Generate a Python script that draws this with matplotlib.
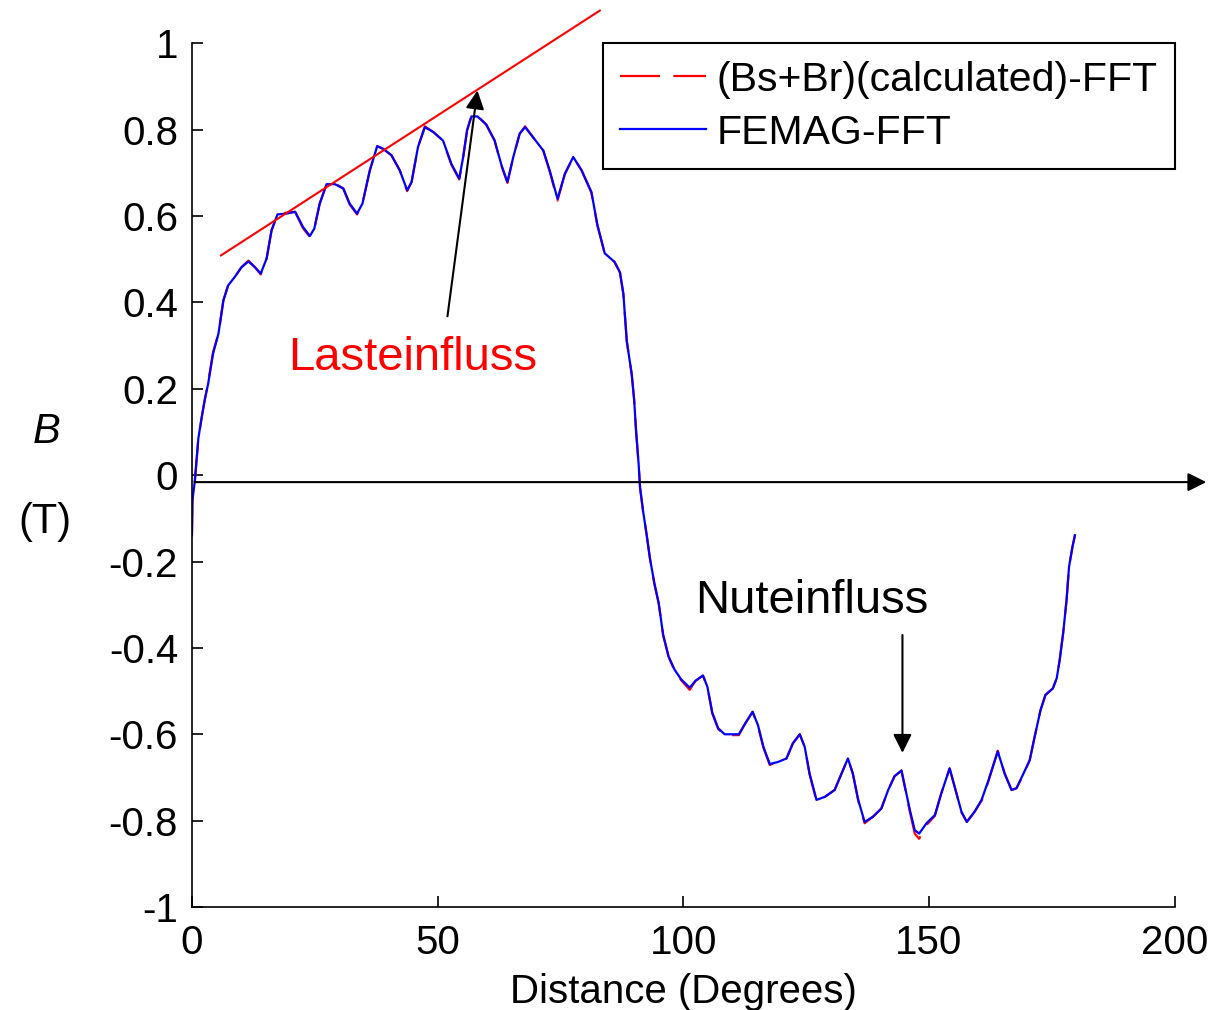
import matplotlib.pyplot as plt

plt.rcParams['font.family'] = ['Liberation Sans', 'DejaVu Sans']

# Flux density along the air gap
distance = [0.0, 0.1, 0.6, 0.95, 1.3, 2.0, 2.6, 3.3, 4.3, 5.4, 6.4, 7.4, 8.7, 10.1, 11.5,
            12.8, 14.0, 15.2, 16.2, 17.4, 19.3, 21.0, 22.6, 24.0, 24.9, 26.0, 27.4, 29.1,
            30.8, 32.1, 33.6, 34.7, 36.2, 37.7, 38.9, 40.6, 42.3, 43.8, 44.7, 46.0, 47.4,
            49.1, 51.1, 52.8, 54.4, 55.2, 56.0, 56.9, 58.1, 59.9, 61.6, 63.0, 64.2, 65.4,
            66.7, 67.8, 69.4, 71.5, 72.8, 74.4, 75.9, 77.6, 79.3, 81.3, 82.5, 84.0, 86.0,
            87.1, 87.8, 88.5, 89.5, 90.0, 90.4, 90.9, 91.2, 91.8, 92.5, 93.2, 94.1, 95.0,
            95.9, 97.0, 98.2, 99.5, 101.3, 102.5, 104.0, 104.9, 105.9, 107.1, 108.4, 111.3,
            112.6, 114.1, 115.2, 116.3, 117.6, 119.3, 121.0, 122.3, 123.7, 124.7, 125.7,
            127.1, 128.8, 130.8, 132.2, 133.5, 134.5, 135.6, 136.9, 138.6, 140.3, 141.7,
            143.0, 144.4, 145.1, 146.1, 147.1, 148.0, 149.5, 151.2, 152.5, 154.2, 155.6,
            156.6, 157.7, 159.3, 160.7, 162.0, 164.0, 165.4, 166.8, 167.8, 169.1, 170.5,
            171.5, 172.7, 173.7, 175.2, 176.0, 176.6, 177.3, 178.0, 178.5, 179.2, 179.7]

femag_b = [-0.139, -0.058, -0.012, 0.035, 0.085, 0.135, 0.174, 0.212, 0.282, 0.328, 0.405,
           0.44, 0.459, 0.482, 0.495, 0.482, 0.467, 0.502, 0.567, 0.604, 0.606, 0.61, 0.575,
           0.554, 0.571, 0.629, 0.674, 0.674, 0.664, 0.629, 0.606, 0.629, 0.706, 0.762,
           0.756, 0.741, 0.706, 0.66, 0.679, 0.76, 0.806, 0.795, 0.775, 0.721, 0.687, 0.737,
           0.799, 0.831, 0.831, 0.812, 0.775, 0.718, 0.679, 0.737, 0.791, 0.806, 0.783,
           0.752, 0.706, 0.64, 0.698, 0.737, 0.706, 0.656, 0.58, 0.514, 0.494, 0.47, 0.42,
           0.31, 0.234, 0.174, 0.1, 0.027, -0.029, -0.082, -0.135, -0.192, -0.249, -0.297,
           -0.37, -0.42, -0.45, -0.472, -0.492, -0.476, -0.464, -0.49, -0.55, -0.586, -0.6,
           -0.6, -0.575, -0.548, -0.579, -0.629, -0.669, -0.664, -0.656, -0.621, -0.6,
           -0.629, -0.691, -0.752, -0.745, -0.729, -0.691, -0.656, -0.691, -0.752, -0.803,
           -0.791, -0.772, -0.729, -0.697, -0.684, -0.721, -0.775, -0.822, -0.83, -0.806,
           -0.787, -0.737, -0.679, -0.737, -0.779, -0.803, -0.779, -0.752, -0.71, -0.64,
           -0.691, -0.729, -0.725, -0.694, -0.66, -0.606, -0.544, -0.509, -0.494, -0.47,
           -0.428, -0.366, -0.289, -0.212, -0.166, -0.139]

calc_b = [-0.139, -0.058, -0.012, 0.035, 0.085, 0.135, 0.174, 0.215, 0.285, 0.328, 0.405,
          0.442, 0.459, 0.482, 0.497, 0.482, 0.465, 0.502, 0.567, 0.604, 0.608, 0.61, 0.572,
          0.552, 0.571, 0.629, 0.674, 0.676, 0.664, 0.627, 0.604, 0.629, 0.706, 0.762,
          0.756, 0.741, 0.706, 0.658, 0.679, 0.76, 0.808, 0.795, 0.775, 0.719, 0.685, 0.737,
          0.799, 0.835, 0.833, 0.812, 0.775, 0.716, 0.677, 0.737, 0.791, 0.808, 0.783,
          0.752, 0.704, 0.636, 0.698, 0.737, 0.706, 0.654, 0.58, 0.514, 0.494, 0.47, 0.42,
          0.31, 0.234, 0.174, 0.1, 0.027, -0.029, -0.082, -0.135, -0.192, -0.252, -0.297,
          -0.37, -0.42, -0.452, -0.474, -0.497, -0.476, -0.464, -0.49, -0.552, -0.588, -0.602,
          -0.602, -0.575, -0.548, -0.581, -0.631, -0.671, -0.664, -0.656, -0.621, -0.6,
          -0.629, -0.693, -0.754, -0.745, -0.729, -0.691, -0.656, -0.691, -0.754, -0.806,
          -0.791, -0.772, -0.729, -0.697, -0.684, -0.723, -0.779, -0.83, -0.842, -0.81,
          -0.789, -0.737, -0.679, -0.737, -0.781, -0.803, -0.779, -0.754, -0.712, -0.638,
          -0.691, -0.729, -0.725, -0.696, -0.66, -0.606, -0.544, -0.509, -0.494, -0.47,
          -0.428, -0.366, -0.289, -0.212, -0.166, -0.139]

# Load-influence envelope line (start / end points)
envelope_x = [5.9, 83.0]
envelope_y = [0.509, 1.076]

yticks = [1, 0.8, 0.6, 0.4, 0.2, 0, -0.2, -0.4, -0.6, -0.8, -1]
ytick_labels = ['1', '0.8', '0.6', '0.4', '0.2', '0', '-0.2', '-0.4', '-0.6', '-0.8', '-1']
xticks = [0, 50, 100, 150, 200]
xtick_labels = ['0', '50', '100', '150', '200']

fig = plt.figure(figsize=(12.11, 10.10), dpi=100)
ax = fig.add_axes([0.1585, 0.102, 0.8115, 0.855])

ax.plot(distance, calc_b, color='red', lw=1.6, linestyle=(0, (18, 6)),
        label='(Bs+Br)(calculated)-FFT')
ax.plot(distance, femag_b, color='blue', lw=1.6, label='FEMAG-FFT')
ax.plot(envelope_x, envelope_y, color='red', lw=1.5, clip_on=False)

ax.set_xlim(0, 200)
ax.set_ylim(-1, 1)
ax.set_xticks(xticks, xtick_labels)
ax.set_yticks(yticks, ytick_labels)
ax.tick_params(direction='in', length=8, width=1.2, labelsize=29, pad=10)
ax.tick_params(axis='x', pad=12)
ax.spines['top'].set_visible(False)
ax.spines['right'].set_visible(False)
ax.spines['left'].set_linewidth(1.2)
ax.spines['bottom'].set_linewidth(1.2)
ax.set_xlabel('Distance (Degrees)', fontsize=29, labelpad=8)

# horizontal zero axis with arrow
ax.annotate('', xy=(207, -0.016), xytext=(0, -0.016), annotation_clip=False,
            arrowprops=dict(arrowstyle='-|>', color='black', lw=1.5, mutation_scale=28))

# annotations
ax.annotate('', xy=(58.1, 0.891), xytext=(52.0, 0.368),
            arrowprops=dict(arrowstyle='-|>', color='black', lw=1.5, mutation_scale=28,
                            shrinkA=0, shrinkB=0))
ax.text(45.0, 0.272, 'Lasteinfluss', color='red', fontsize=34, ha='center', va='center')
ax.annotate('', xy=(144.6, -0.643), xytext=(144.6, -0.37),
            arrowprops=dict(arrowstyle='-|>', color='black', lw=1.5, mutation_scale=28,
                            shrinkA=0, shrinkB=0))
ax.text(126.1, -0.292, 'Nuteinfluss', color='black', fontsize=34, ha='center', va='center')

fig.text(47 / 1211, 1 - 432 / 1010, 'B', fontsize=30, style='italic', ha='center', va='center')
fig.text(45 / 1211, 1 - 522 / 1010, '(T)', fontsize=30, ha='center', va='center')

leg = ax.legend(loc='upper right', borderaxespad=0, fontsize=29.5, fancybox=False,
                edgecolor='black', framealpha=1, handlelength=2.1, handletextpad=0.25,
                labelspacing=0.37, borderpad=0.42)
leg.get_frame().set_linewidth(1.5)

plt.savefig('out.png', dpi=100)
